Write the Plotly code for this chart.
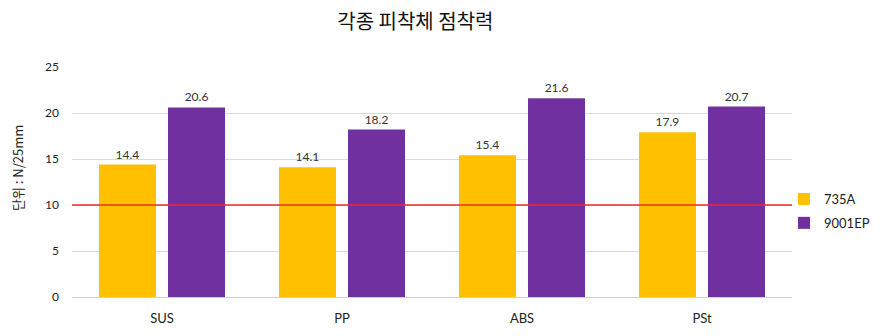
import plotly.graph_objects as go

categories = ["SUS", "PP", "ABS", "PSt"]
series_735a = [14.4, 14.1, 15.4, 17.9]
series_9001ep = [20.6, 18.2, 21.6, 20.7]
series_names = ["735A", "9001EP"]
y_ticks = [0, 5, 10, 15, 20, 25]
reference_value = 10

FONT = "Lato, 'Noto Sans CJK KR', sans-serif"

# plot area in pixels
L, R, T, B = 72, 792, 67, 297

def px_x(p):
    return (p - L) / (R - L)

def px_y(p):
    return (B - p) / (B - T)

fig = go.Figure()
fig.add_trace(go.Bar(
    x=categories, y=series_735a, name=series_names[0], legendgroup="a",
    marker=dict(color="#FFC000", line=dict(width=0)),
    text=[f"{v:.1f}" for v in series_735a], textposition="outside",
    textfont=dict(size=12, color="#333333", family=FONT), cliponaxis=False,
))
fig.add_trace(go.Bar(
    x=categories, y=series_9001ep, name=series_names[1], legendgroup="b",
    marker=dict(color="#7030A0", line=dict(width=0)),
    text=[f"{v:.1f}" for v in series_9001ep], textposition="outside",
    textfont=dict(size=12, color="#333333", family=FONT), cliponaxis=False,
))

fig.add_shape(type="line", xref="x domain", yref="y", x0=0, x1=1,
              y0=reference_value, y1=reference_value,
              line=dict(color="#F0282D", width=1.5))

fig.update_layout(
    width=880, height=336,
    margin=dict(l=L, r=880 - R, t=T, b=336 - B, autoexpand=False),
    paper_bgcolor="white", plot_bgcolor="white",
    barmode="group", bargap=0.233, bargroupgap=0.174,
    font=dict(family=FONT, size=12, color="#222222"),
    title=dict(text="각종 피착체 점착력", x=0.472, xanchor="center",
               y=1 - 22 / 336, yanchor="middle",
               font=dict(family="'Noto Sans CJK KR', sans-serif", size=20, color="#111111")),
    showlegend=True,
    legend=dict(x=px_x(784), xanchor="left", y=px_y(211), yanchor="middle",
                font=dict(size=13, color="#222222", family=FONT),
                itemwidth=30, tracegroupgap=4, bgcolor="rgba(0,0,0,0)"),
)
fig.update_xaxes(showgrid=False, showline=False, ticks="", ticklabelstandoff=12,
                 tickfont=dict(size=13, color="#222222", family=FONT))
fig.update_yaxes(range=[0, 25], tickvals=y_ticks, showgrid=True,
                 gridcolor="#D9D9D9", gridwidth=1, zeroline=True,
                 zerolinecolor="#D0D0D0", zerolinewidth=1,
                 showline=False, ticks="", ticklabelstandoff=12,
                 tickfont=dict(size=12, color="#222222", family=FONT))

fig.add_annotation(text="단위 : N/25mm", textangle=-90, xref="paper", yref="paper",
                   x=px_x(17), y=px_y(168), xanchor="center", yanchor="middle",
                   showarrow=False,
                   font=dict(size=13, color="#222222", family="'Noto Sans CJK KR', sans-serif"))

fig.write_html("out.html")
